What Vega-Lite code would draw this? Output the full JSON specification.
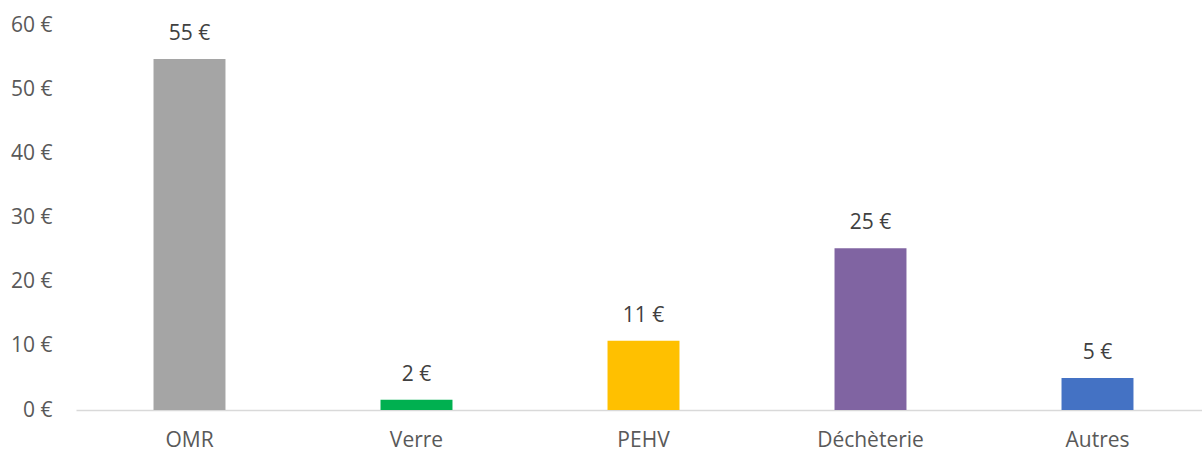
{
  "$schema": "https://vega.github.io/schema/vega-lite/v6.json",
  "width": 1135,
  "height": 385,
  "autosize": {"type": "none"},
  "padding": {"left": 76, "top": 25, "right": 0, "bottom": 41},
  "background": "white",
  "config": {
    "view": {"stroke": null},
    "locale": {"number": {"decimal": ",", "thousands": " ", "grouping": [3], "currency": ["", " €"]}}
  },
  "data": {"values": [
    {"cat": "OMR", "value": 54.7},
    {"cat": "Verre", "value": 1.6},
    {"cat": "PEHV", "value": 10.8},
    {"cat": "Déchèterie", "value": 25.2},
    {"cat": "Autres", "value": 5.0}
  ]},
  "encoding": {
    "x": {"field": "cat", "type": "nominal", "sort": null,
      "scale": {"paddingInner": 0.683, "paddingOuter": 0.3415},
      "axis": {"title": null, "labelAngle": 0, "ticks": false, "domainColor": "#d9d9d9", "domainWidth": 1.5,
        "labelFont": "Open Sans", "labelFontSize": 21, "labelColor": "#595959", "labelPadding": 19}},
    "y": {"field": "value", "type": "quantitative",
      "scale": {"domain": [0, 60]},
      "axis": {"title": null, "values": [0, 10, 20, 30, 40, 50, 60], "format": "$.0f", "domain": false, "ticks": false, "grid": false, "labelOverlap": false,
        "labelFont": "Open Sans", "labelFontSize": 21, "labelColor": "#595959", "labelPadding": 24}}
  },
  "layer": [
    {"mark": {"type": "bar"},
      "encoding": {"color": {"field": "cat", "type": "nominal", "legend": null,
        "scale": {"domain": ["OMR", "Verre", "PEHV", "Déchèterie", "Autres"], "range": ["#A5A5A5", "#00B050", "#FFC000", "#8064A2", "#4472C4"]}}}},
    {"mark": {"type": "text", "baseline": "middle", "dy": -25, "font": "Open Sans", "fontSize": 21, "color": "#404040"},
      "encoding": {"text": {"field": "value", "type": "quantitative", "format": "$.0f"}}}
  ]
}
